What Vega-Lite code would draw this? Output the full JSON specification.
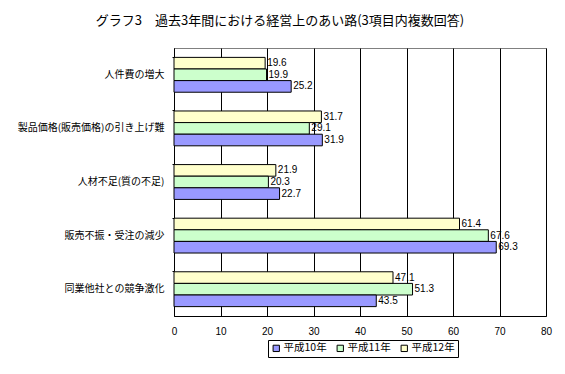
{
  "$schema": "https://vega.github.io/schema/vega-lite/v6.json",
  "autosize": "none",
  "width": 372,
  "height": 268,
  "padding": {"left": 174, "top": 48, "right": 19, "bottom": 58},
  "background": "white",
  "title": {
    "text": "グラフ3　過去3年間における経営上のあい路(3項目内複数回答)",
    "font": "Noto Sans CJK JP",
    "fontSize": 13,
    "fontWeight": "normal",
    "color": "black",
    "anchor": "middle",
    "dx": -80,
    "offset": 20
  },
  "data": {
    "values": [
      {"cat": "人件費の増大", "year": "平成12年", "v": 19.6},
      {"cat": "人件費の増大", "year": "平成11年", "v": 19.9},
      {"cat": "人件費の増大", "year": "平成10年", "v": 25.2},
      {"cat": "製品価格(販売価格)の引き上げ難", "year": "平成12年", "v": 31.7},
      {"cat": "製品価格(販売価格)の引き上げ難", "year": "平成11年", "v": 29.1},
      {"cat": "製品価格(販売価格)の引き上げ難", "year": "平成10年", "v": 31.9},
      {"cat": "人材不足(質の不足)", "year": "平成12年", "v": 21.9},
      {"cat": "人材不足(質の不足)", "year": "平成11年", "v": 20.3},
      {"cat": "人材不足(質の不足)", "year": "平成10年", "v": 22.7},
      {"cat": "販売不振・受注の減少", "year": "平成12年", "v": 61.4},
      {"cat": "販売不振・受注の減少", "year": "平成11年", "v": 67.6},
      {"cat": "販売不振・受注の減少", "year": "平成10年", "v": 69.3},
      {"cat": "同業他社との競争激化", "year": "平成12年", "v": 47.1},
      {"cat": "同業他社との競争激化", "year": "平成11年", "v": 51.3},
      {"cat": "同業他社との競争激化", "year": "平成10年", "v": 43.5}
    ]
  },
  "encoding": {
    "y": {
      "field": "cat",
      "type": "nominal",
      "sort": ["人件費の増大", "製品価格(販売価格)の引き上げ難", "人材不足(質の不足)", "販売不振・受注の減少", "同業他社との競争激化"],
      "scale": {"paddingInner": 0.35, "paddingOuter": 0.175},
      "axis": {
        "title": null,
        "labelFont": "Noto Sans CJK JP",
        "labelFontSize": 10,
        "labelColor": "black",
        "labelPadding": 8,
        "domainColor": "black",
        "tickColor": "black",
        "tickSize": 2,
        "bandPosition": 0,
        "grid": false
      }
    },
    "yOffset": {
      "field": "year",
      "type": "nominal",
      "scale": {"domain": ["平成12年", "平成11年", "平成10年"], "paddingInner": 0, "paddingOuter": 0}
    },
    "x": {
      "field": "v",
      "type": "quantitative",
      "scale": {"domain": [0, 80], "nice": false},
      "axis": {
        "title": null,
        "values": [0, 10, 20, 30, 40, 50, 60, 70, 80],
        "labelFont": "Liberation Sans",
        "labelFontSize": 10,
        "labelColor": "black",
        "labelPadding": 10,
        "ticks": false,
        "grid": true,
        "gridColor": "black",
        "gridOpacity": 1,
        "gridWidth": 1,
        "domainColor": "black",
        "labelFlush": false
      }
    }
  },
  "layer": [
    {
      "mark": {"type": "bar", "stroke": "black", "strokeWidth": 1},
      "encoding": {
        "color": {
          "field": "year",
          "type": "nominal",
          "scale": {"domain": ["平成10年", "平成11年", "平成12年"], "range": ["#9999FF", "#CCFFCC", "#FFFFCC"]},
          "legend": {
            "title": null,
            "orient": "none",
            "legendX": 94,
            "legendY": 292,
            "direction": "horizontal",
            "labelFont": "Noto Sans CJK JP",
            "labelFontSize": 10.5,
            "labelColor": "black",
            "symbolType": "square",
            "symbolSize": 40,
            "symbolStrokeColor": "black",
            "symbolStrokeWidth": 1,
            "symbolOpacity": 1,
            "strokeColor": "black",
            "padding": 3,
            "columnPadding": 8,
            "labelOffset": 2
          }
        }
      }
    },
    {
      "mark": {"type": "text", "align": "left", "baseline": "middle", "dx": 2, "font": "Liberation Sans", "fontSize": 10, "color": "black"},
      "encoding": {
        "text": {"field": "v", "type": "quantitative", "format": ".1f"}
      }
    }
  ],
  "config": {
    "view": {"stroke": "#808080", "strokeWidth": 1}
  }
}
